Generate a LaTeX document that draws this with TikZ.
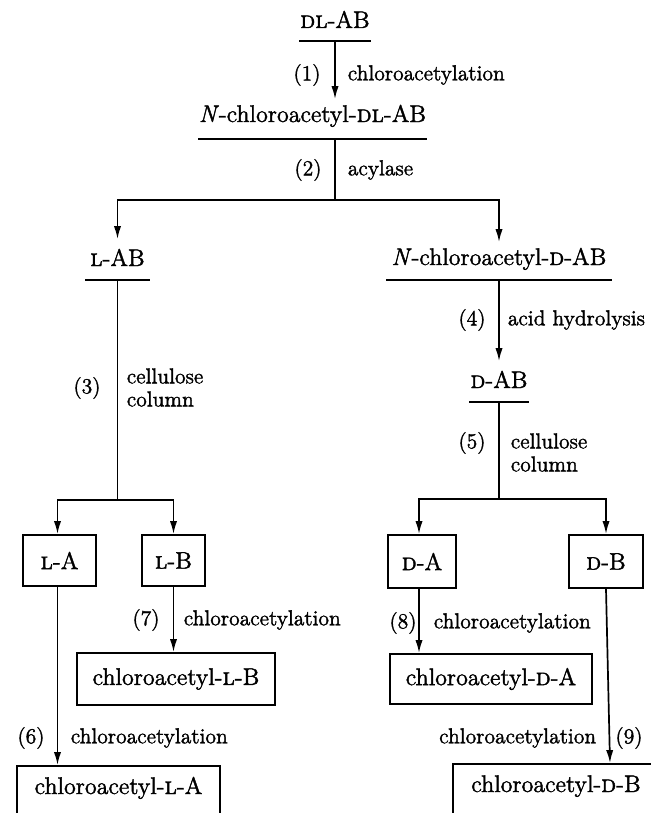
\documentclass[tikz,border=0pt]{standalone}
\usepackage{fontspec}
\setmainfont{lmroman12-regular.otf}[
  FakeBold=1.6,
  ItalicFont=lmroman12-italic.otf,
  ItalicFeatures={FakeBold=1.6},
  SmallCapsFont=lmromancaps10-regular.otf,
  SmallCapsFeatures={FakeBold=1.6}]
\usetikzlibrary{arrows.meta}
\begin{document}
\begin{tikzpicture}[x=0.5pt,y=-0.5pt,
  line width=0.85pt,
  arr/.style={-{Latex[length=6.5pt,width=3.6pt]}},
  nm/.style={font=\fontsize{12}{14}\selectfont, inner sep=0pt},
  ulnode/.style={nm, anchor=base},
  box/.style={nm, draw, line width=0.9pt},
  lbl/.style={font=\fontsize{10.8}{12}\selectfont, inner sep=0pt},
  lblL/.style={lbl, anchor=west},
  lblR/.style={lbl, anchor=east},
  num/.style={lbl}]
\useasboundingbox (0,0) rectangle (651,813);
\clip (0,0) rectangle (651,813);

% underlined compounds
\node[ulnode, text height=10pt, text depth=6pt, minimum width=35pt] (dlab) at (335,28) {\textsc{dl}-AB};
\node[ulnode, text height=11pt, text depth=8pt, minimum width=109.5pt] (ndlab) at (312.5,122) {\textit{N}-chloroacetyl-\textsc{dl}-AB};
\node[ulnode, text height=13pt, text depth=6.5pt, minimum width=31.5pt] (lab) at (117.5,266) {\textsc{l}-AB};
\node[ulnode, text height=11pt, text depth=7pt, minimum width=112pt] (ndab) at (499,265) {\textit{N}-chloroacetyl-\textsc{d}-AB};
\node[ulnode, text height=13pt, text depth=6.5pt, minimum width=29pt] (dab) at (499,388) {\textsc{d}-AB};
\foreach \n in {dlab,ndlab,lab,ndab,dab}
  \draw (\n.south west) -- (\n.south east);

% boxes
\node[box, minimum width=36.5pt, minimum height=25.5pt] (LA) at (59.5,560.5) {\textsc{l}-A};
\node[box, minimum width=31.5pt, minimum height=25.5pt] (LB) at (173.5,560.5) {\textsc{l}-B};
\node[box, minimum width=34pt, minimum height=26.5pt] (DA) at (422,561.5) {\textsc{d}-A};
\node[box, minimum width=37pt, minimum height=26.5pt] (DB) at (606,561.5) {\textsc{d}-B};
\node[box, minimum width=99pt, minimum height=26pt] (cLB) at (176,679) {chloroacetyl-\textsc{l}-B};
\node[box, minimum width=101pt, minimum height=25pt] (cDA) at (491,679) {chloroacetyl-\textsc{d}-A};
\node[box, minimum width=101.5pt, minimum height=32pt, text height=8pt, text depth=12pt] (cLA) at (118.5,798) {chloroacetyl-\textsc{l}-A};
\node[box, minimum width=103pt, minimum height=32pt, text height=8pt, text depth=12pt] (cDB) at (556,796) {chloroacetyl-\textsc{d}-B};

% junctions
\coordinate (j2) at (335,200);
\coordinate (j3) at (117.5,500);
\coordinate (j5) at (499,499);

% connectors
\draw[arr] (dlab.south) -- (dlab.south |- ndlab.north);
\draw (ndlab.south -| j2) -- (j2);
\draw[arr] (j2) -| (lab.north);
\draw[arr] (j2) -| (ndab.north);
\draw (lab.south) -- (j3);
\draw[arr] (j3) -| ([xshift=-1pt]LA.north);
\draw[arr] (j3) -| (LB.north);
\draw[arr] (ndab.south) -- (ndab.south |- dab.north);
\draw (dab.south) -- (j5);
\draw[arr] (j5) -| ([xshift=-1.5pt]DA.north);
\draw[arr] (j5) -| (DB.north);
\draw[arr] ([xshift=-1pt]LA.south) -- ([xshift=-1pt]LA.south |- cLA.north);
\draw[arr] (LB.south) -- (LB.south |- cLB.north);
\draw[arr] ([xshift=-1.5pt]DA.south) -- ([xshift=-1.5pt]DA.south |- cDA.north);
\draw[arr] (DB.south) -- ([xshift=2pt]DB.south |- cDB.north);

% labels
\node[num] (n1) at (307,75) {(1)};
\node[lblL] (t1) at (347,75) {chloroacetylation};
\node[num] (n2) at (308,170) {(2)};
\node[lblL] (t2) at (347,170) {acylase};
\node[num] (n3) at (87,388) {(3)};
\node[lblL] (t3a) at (126,376) {cellulose};
\node[lblL] (t3b) at (126,399) {column};
\node[num] (n4) at (472,320) {(4)};
\node[lblL] (t4) at (507,320) {acid hydrolysis};
\node[num] (n5) at (472,443) {(5)};
\node[lblL] (t5a) at (510,441) {cellulose};
\node[lblL] (t5b) at (510,464) {column};
\node[num] (n6) at (31,738) {(6)};
\node[lblL] (t6) at (70,738) {chloroacetylation};
\node[num] (n7) at (146,620) {(7)};
\node[lblL] (t7) at (183,620) {chloroacetylation};
\node[num] (n8) at (403,623) {(8)};
\node[lblL] (t8) at (433,623) {chloroacetylation};
\node[num] (n9) at (629,738) {(9)};
\node[lblR] (t9) at (597,738) {chloroacetylation};
\end{tikzpicture}
\end{document}
